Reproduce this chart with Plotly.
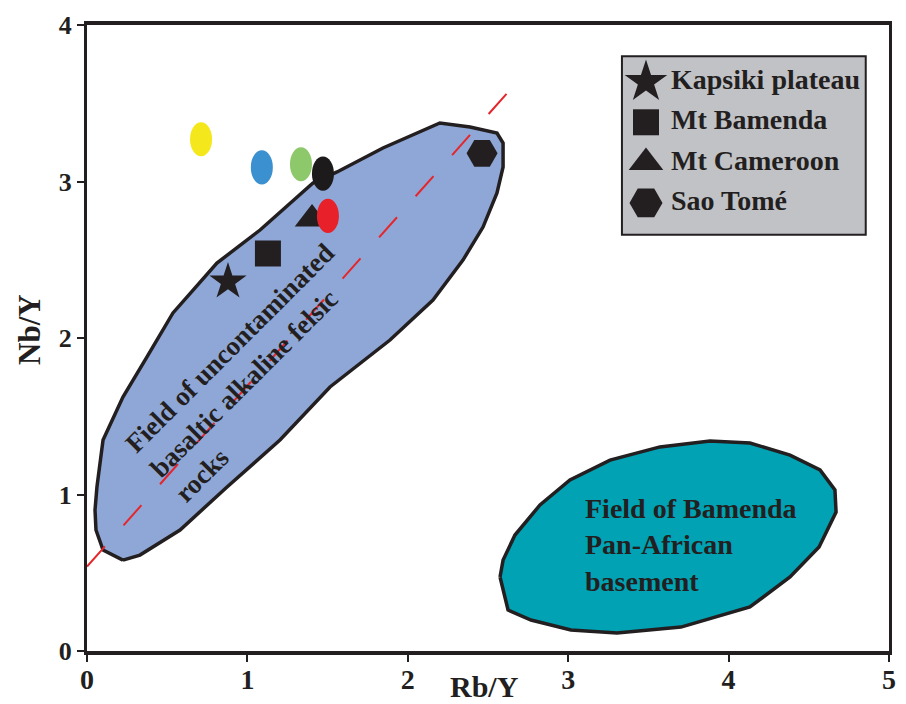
import plotly.graph_objects as go

# ---------------- data ----------------
series_names = ["Kapsiki plateau", "Mt Bamenda", "Mt Cameroon", "Sao Tomé"]
series_symbols = ["star", "square", "triangle-up", "hexagon2"]
series_sizes = [28, 26, 30, 31]
series_rb_y = [0.879, 1.128, 1.403, 2.463]
series_nb_y = [2.36, 2.54, 2.76, 3.18]

# unlabelled coloured samples (drawn as ellipses)
sample_rb_y = [0.711, 1.090, 1.334, 1.471, 1.502]
sample_nb_y = [3.27, 3.09, 3.11, 3.05, 2.78]
sample_colors = ["#f4e81c", "#3b90cf", "#8dc86a", "#1c1a1b", "#e8202a"]

# field outlines
basalt_field_x = [0.224, 0.330, 0.580, 0.873, 1.203, 1.515, 1.889, 2.157, 2.344, 2.469,
                  2.556, 2.594, 2.594, 2.556, 2.388, 2.200, 1.845, 1.559, 1.409, 1.079,
                  0.810, 0.536, 0.374, 0.224, 0.100, 0.062, 0.050, 0.056, 0.100, 0.224]
basalt_field_y = [0.581, 0.613, 0.773, 1.048, 1.348, 1.687, 1.987, 2.243, 2.498, 2.709,
                  2.927, 3.093, 3.246, 3.310, 3.348, 3.374, 3.214, 3.061, 2.990, 2.690,
                  2.479, 2.160, 1.879, 1.623, 1.348, 1.048, 0.901, 0.773, 0.645, 0.581]

basement_field_x = [2.575, 2.625, 2.768, 3.017, 3.304, 3.703, 4.133, 4.383, 4.564, 4.670,
                    4.663, 4.570, 4.383, 4.133, 3.884, 3.572, 3.261, 3.011, 2.824, 2.668,
                    2.594, 2.575]
basement_field_y = [0.473, 0.262, 0.198, 0.134, 0.115, 0.153, 0.281, 0.473, 0.665, 0.888,
                    1.029, 1.157, 1.252, 1.329, 1.342, 1.304, 1.220, 1.093, 0.933, 0.741,
                    0.581, 0.473]

trend_x = [0.0, 2.65]
trend_y = [0.54, 3.60]

x_ticks = [0, 1, 2, 3, 4, 5]
y_ticks = [0, 1, 2, 3, 4]

INK = "#231f20"
FONT = "Liberation Serif"

fig = go.Figure()

# fields
fig.add_trace(go.Scatter(x=basalt_field_x, y=basalt_field_y, mode="lines", fill="toself",
                         fillcolor="#8fa7d6", line=dict(color=INK, width=3.5),
                         hoverinfo="skip", showlegend=False))
fig.add_trace(go.Scatter(x=basement_field_x, y=basement_field_y, mode="lines", fill="toself",
                         fillcolor="#00a2b3", line=dict(color=INK, width=3.5),
                         hoverinfo="skip", showlegend=False))

# trend line
fig.add_trace(go.Scatter(x=trend_x, y=trend_y, mode="lines",
                         line=dict(color="#e5262b", width=2, dash="27px,28px"),
                         hoverinfo="skip", showlegend=False))

# labelled series
for name, sym, sz, xv, yv in zip(series_names, series_symbols, series_sizes, series_rb_y, series_nb_y):
    fig.add_trace(go.Scatter(x=[xv], y=[yv], mode="markers", name=name,
                             marker=dict(symbol=sym, size=sz, color=INK, line=dict(width=0)),
                             showlegend=False))

# ellipse samples (shapes on top)
rx, ry = 0.0686, 0.109
shapes = []
for cx, cy, col in zip(sample_rb_y, sample_nb_y, sample_colors):
    shapes.append(dict(type="circle", xref="x", yref="y", x0=cx - rx, x1=cx + rx,
                       y0=cy - ry, y1=cy + ry, fillcolor=col, line=dict(width=0),
                       layer="above"))

# custom legend
leg_x0, leg_x1, leg_y0, leg_y1 = 0.667, 0.971, 0.665, 0.950
shapes.append(dict(type="rect", xref="paper", yref="paper", x0=leg_x0, x1=leg_x1,
                   y0=leg_y0, y1=leg_y1, fillcolor="#c1c2c6",
                   line=dict(color=INK, width=2), layer="below"))
leg_sym_x = 0.697
leg_txt_x = 0.726
leg_top = 0.909
leg_step = 0.0644
leg_sizes = [32, 26, 30, 33]
annotations = []
for i, (name, sym) in enumerate(zip(series_names, series_symbols)):
    yy = leg_top - i * leg_step
    fig.add_trace(go.Scatter(x=[leg_sym_x], y=[yy], xaxis="x2", yaxis="y2", mode="markers",
                             marker=dict(symbol=sym, size=leg_sizes[i], color=INK),
                             hoverinfo="skip", showlegend=False))
    annotations.append(dict(xref="paper", yref="paper", x=leg_txt_x, y=yy + 0.004,
                            text=name, showarrow=False, xanchor="left", yanchor="middle",
                            font=dict(family=FONT, size=28, color=INK, weight="bold")))

# field labels
annotations.append(dict(xref="x", yref="y", x=1.045, y=1.774,
                        text="Field of uncontaminated<br>basaltic alkaline felsic<br>rocks",
                        showarrow=False, textangle=-45, align="left",
                        font=dict(family=FONT, size=27, color=INK, weight="bold")))
annotations.append(dict(xref="x", yref="y", x=3.09, y=0.68,
                        text="Field of Bamenda<br>Pan-African<br>basement",
                        showarrow=False, align="left", xanchor="left", yanchor="middle",
                        font=dict(family=FONT, size=28, color=INK, weight="bold")))

# axis titles
annotations.append(dict(xref="paper", yref="paper", x=0.496, y=0, yshift=-35,
                        text="Rb/Y", showarrow=False, xanchor="center", yanchor="middle",
                        font=dict(family=FONT, size=30, color=INK, weight="bold")))
annotations.append(dict(xref="paper", yref="paper", x=-0.071, y=0.513,
                        text="Nb/Y", showarrow=False, textangle=-90,
                        xanchor="center", yanchor="middle",
                        font=dict(family=FONT, size=31, color=INK, weight="bold")))

# page body has an 8px margin: size/margins compensate so the plot area
# lands where the reference has it inside the 906x704 window
fig.update_layout(
    width=898, height=696,
    margin=dict(l=79, r=17, t=17, b=53),
    paper_bgcolor="white", plot_bgcolor="white",
    showlegend=False,
    xaxis=dict(range=[0, 5], tickvals=x_ticks, ticktext=[str(v) for v in x_ticks],
               showgrid=False, zeroline=False, showline=True, linecolor=INK, linewidth=4,
               mirror=True, ticks="outside", ticklen=7, tickwidth=2, tickcolor=INK,
               tickfont=dict(family=FONT, size=28, color=INK, weight="bold"),
               ticklabelstandoff=-7,
               fixedrange=True, automargin=False),
    yaxis=dict(range=[0, 4], tickvals=y_ticks, ticktext=[str(v) for v in y_ticks],
               showgrid=False, zeroline=False, showline=True, linecolor=INK, linewidth=3,
               mirror=True, ticks="outside", ticklen=7, tickwidth=2, tickcolor=INK,
               tickfont=dict(family=FONT, size=26, color=INK, weight="bold"),
               fixedrange=True, automargin=False),
    xaxis2=dict(overlaying="x", range=[0, 1], visible=False, fixedrange=True, automargin=False),
    yaxis2=dict(overlaying="y", range=[0, 1], visible=False, fixedrange=True, automargin=False),
    shapes=shapes,
    annotations=annotations,
)

fig.write_html("out.html")
